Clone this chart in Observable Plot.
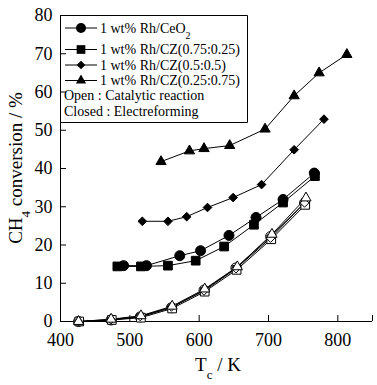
<!DOCTYPE html>
<html><head><meta charset="utf-8">
<script src="https://cdn.jsdelivr.net/npm/d3@7"></script>
<script src="https://cdn.jsdelivr.net/npm/@observablehq/plot@0.6"></script>
<style>body{margin:0;background:#fff;} #chart{width:377px;height:385px;}</style>
</head><body><div id="chart"></div>
<script>
// ---- data ----
const seriesNames = ["1 wt% Rh/CeO", "1 wt% Rh/CZ(0.75:0.25)", "1 wt% Rh/CZ(0.5:0.5)", "1 wt% Rh/CZ(0.25:0.75)"];
const seriesSubs = ["2", "", "", ""];
const seriesSymbols = ["circle", "square", "diamond2", "triangle"];

// Closed: electroreforming
const closedT_CeO2 = [491, 524, 572, 602, 643, 682, 721, 766];
const closedV_CeO2 = [14.6, 14.6, 17.2, 18.5, 22.5, 27.2, 31.9, 38.8];
const closedT_CZ7525 = [482, 516, 555, 595, 636, 679, 721, 767];
const closedV_CZ7525 = [14.4, 14.4, 14.6, 15.9, 19.6, 25.3, 31.1, 38.0];
const closedT_CZ55 = [518, 555, 582, 612, 649, 690, 737, 780];
const closedV_CZ55 = [26.2, 26.2, 27.4, 29.8, 32.4, 35.8, 44.9, 52.9];
const closedT_CZ2575 = [545, 586, 607, 644, 695, 737, 773, 813];
const closedV_CZ2575 = [41.8, 44.6, 45.2, 46.0, 50.3, 59.0, 65.0, 69.8];

// Open: catalytic reaction
const openT_CeO2 = [426, 473, 515, 560, 607, 653, 703, 752];
const openV_CeO2 = [0, 0.4, 1.2, 3.6, 8.2, 14.0, 22.2, 31.0];
const openT_CZ7525 = [427, 474, 516, 561, 608, 654, 704, 753];
const openV_CZ7525 = [0, 0.4, 1.0, 3.4, 7.8, 13.5, 21.5, 30.5];
const openT_CZ55 = [426, 473, 515, 560, 607, 653, 703, 752];
const openV_CZ55 = [0, 0.5, 1.3, 3.8, 8.0, 13.8, 21.8, 31.0];
const openT_CZ2575 = [426, 473, 516, 561, 608, 655, 705, 754];
const openV_CZ2575 = [0, 0.6, 1.5, 4.0, 8.5, 14.3, 22.8, 32.3];

const xTicks = [400, 500, 600, 700, 800];
const xTickMarks = [500, 600, 700, 800, 850];
const yTicks = [0, 10, 20, 30, 40, 50, 60, 70, 80];
const xLabel = ["T", "c", " / K"];
const yLabel = ["CH", "4", " conversion / %"];
const legendNotes = ["Open : Catalytic reaction", "Closed : Electreforming"];

// ---- build tables ----
const zip = (T, V) => T.map((t, i) => ({t, v: V[i]}));
const closed = [
  zip(closedT_CeO2, closedV_CeO2), zip(closedT_CZ7525, closedV_CZ7525),
  zip(closedT_CZ55, closedV_CZ55), zip(closedT_CZ2575, closedV_CZ2575)];
const open = [
  zip(openT_CeO2, openV_CeO2), zip(openT_CZ7525, openV_CZ7525),
  zip(openT_CZ55, openV_CZ55), zip(openT_CZ2575, openV_CZ2575)];
const symR = {circle: 5, square: 4.9, diamond2: 3.9, triangle: 3.8};

const W = 377, H = 385, mL = 60, mR = 5, mT = 15, mB = 64;
const font = "'Liberation Serif', 'Times New Roman', serif";

const marks = [
  Plot.axisX({ticks: xTicks, tickSize: 0, tickPadding: 12, label: null, fontSize: 18}),
  Plot.axisX({ticks: xTickMarks, tickSize: -6, tickFormat: () => "", label: null}),
  Plot.axisY({ticks: yTicks, tickSize: 0, tickPadding: 8, label: null, fontSize: 18}),
  Plot.axisY({ticks: yTicks, tickSize: -6, tickFormat: () => "", label: null}),
  Plot.ruleX([400], {stroke: "black"}),
  Plot.ruleY([0], {stroke: "black"})
];
open.forEach((d, i) => marks.push(Plot.line(d, {x: "t", y: "v", stroke: "black", strokeWidth: 1})));
open.forEach((d, i) => marks.push(Plot.dot(d, {x: "t", y: "v", symbol: () => seriesSymbols[i], r: symR[seriesSymbols[i]], fill: "white", stroke: "black", strokeWidth: 1})));
closed.forEach((d, i) => marks.push(Plot.line(d, {x: "t", y: "v", stroke: "black", strokeWidth: 1})));
closed.forEach((d, i) => marks.push(Plot.dot(d, {x: "t", y: "v", symbol: () => seriesSymbols[i], r: symR[seriesSymbols[i]], fill: "black", stroke: "black", strokeWidth: 1})));

const chart = Plot.plot({
  width: W, height: H, marginLeft: mL, marginRight: mR, marginTop: mT, marginBottom: mB,
  style: {fontFamily: font, fontSize: "18px", color: "#000", background: "#fff", overflow: "visible"},
  x: {domain: [400, 850]},
  y: {domain: [0, 80]},
  symbol: {type: "identity"},
  marks
});
document.getElementById("chart").appendChild(chart);

const svg = d3.select(chart);
// axis titles
const xt = svg.append("text").attr("x", (mL + W - mR) / 2 + 2).attr("y", 371)
  .attr("text-anchor", "middle").attr("font-family", font).attr("font-size", 19).attr("fill", "black");
xt.append("tspan").text(xLabel[0]);
xt.append("tspan").attr("baseline-shift", "sub").attr("font-size", 13).text(xLabel[1]);
xt.append("tspan").text(xLabel[2]);

const yt = svg.append("text").attr("transform", `translate(22,${(mT + H - mB) / 2}) rotate(-90)`)
  .attr("text-anchor", "middle").attr("font-family", font).attr("font-size", 19).attr("fill", "black");
yt.append("tspan").text(yLabel[0]);
yt.append("tspan").attr("baseline-shift", "sub").attr("font-size", 13).text(yLabel[1]);
yt.append("tspan").text(yLabel[2]);

// legend
const lg = svg.append("g").attr("font-family", font).attr("font-size", 14).attr("text-anchor", "start");
lg.append("path").attr("d", "M60.5,15.5H247.5V122.5H60.5Z")
  .style("fill", "none").style("stroke", "black").style("stroke-width", "1px");
const rowY = [28, 49.5, 65, 80.5];
seriesNames.forEach((name, i) => {
  const y = rowY[i];
  lg.append("line").attr("x1", 65).attr("x2", 97).attr("y1", y).attr("y2", y).style("stroke", "black");
  const r = symR[seriesSymbols[i]];
  const sym = {circle: d3.symbolCircle, square: d3.symbolSquare, diamond2: d3.symbolDiamond2, triangle: d3.symbolTriangle}[seriesSymbols[i]];
  lg.append("path").attr("d", d3.symbol(sym, Math.PI * r * r)()).attr("transform", `translate(81,${y})`).style("fill", "black");
  const t = lg.append("text").attr("x", 100).attr("y", y).attr("dy", "0.35em").style("fill", "black").attr("text-anchor", "start");
  t.append("tspan").text(name);
  if (seriesSubs[i]) t.append("tspan").attr("baseline-shift", "sub").attr("font-size", 10).text(seriesSubs[i]);
});
legendNotes.forEach((note, j) => {
  lg.append("text").attr("x", 64).attr("y", 95.5 + j * 15.5).attr("dy", "0.35em").attr("text-anchor", "start").style("fill", "black").text(note);
});
</script></body></html>
